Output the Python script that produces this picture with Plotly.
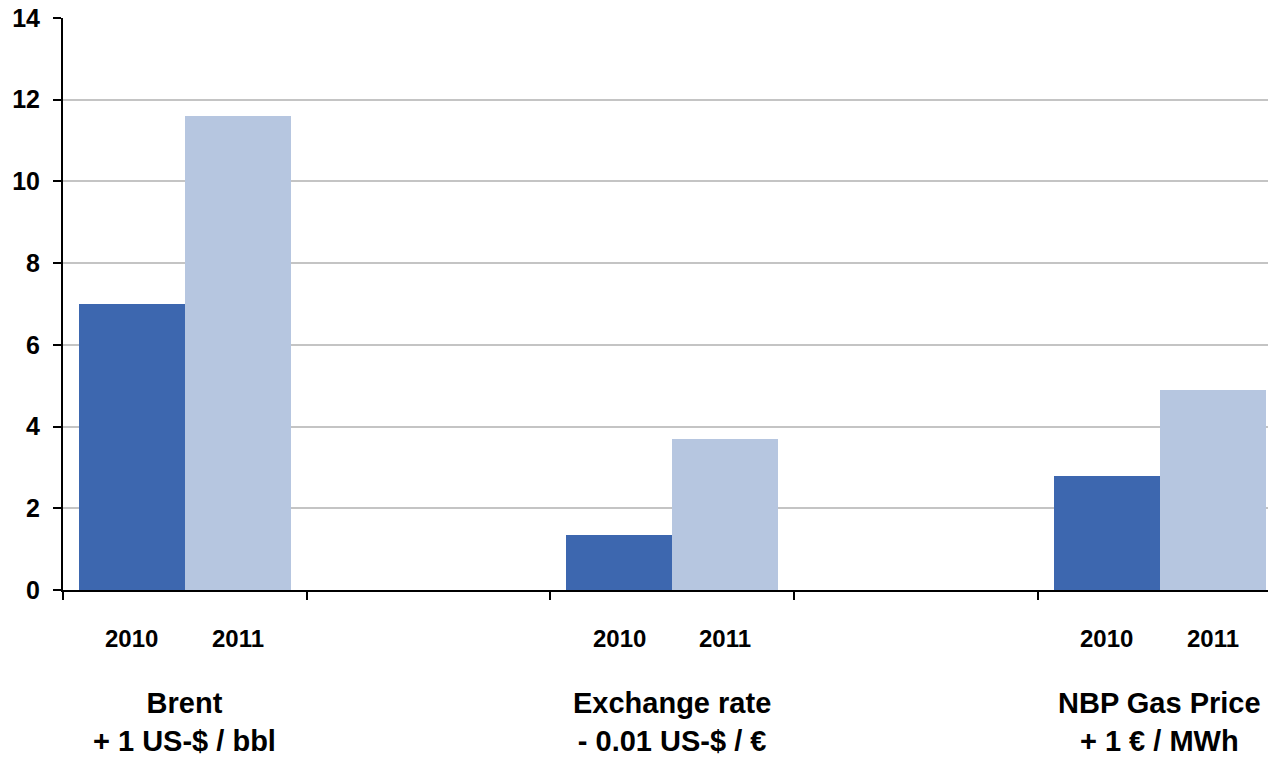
import plotly.graph_objects as go

categories = ["Brent", "Exchange rate", "NBP Gas Price"]
units = ["+ 1 US-$ / bbl", "- 0.01 US-$ / €", "+ 1 € / MWh"]
years = ["2010", "2011"]
values_2010 = [7.0, 1.35, 2.8]
values_2011 = [11.6, 3.7, 4.9]
y_ticks = [0, 2, 4, 6, 8, 10, 12, 14]

colors = ["#3D67AF", "#B6C6E0"]
FONT = "Liberation Sans, Arial, sans-serif"

# each category sits in every other slot of a 5-slot axis
xpos = [2 * i for i in range(len(categories))]
bw = 0.435

fig = go.Figure()
for k, (yr, vals) in enumerate(zip(years, [values_2010, values_2011])):
    fig.add_trace(go.Bar(
        x=xpos, y=vals, name=yr, width=bw, offset=-bw if k == 0 else 0,
        marker=dict(color=colors[k], line=dict(width=0)),
        showlegend=False,
    ))

plot_top, plot_bot = 17.5, 590.0
def py(Y):
    return (plot_bot - Y) / (plot_bot - plot_top)

annotations = []
for i, x in enumerate(xpos):
    for k, yr in enumerate(years):
        annotations.append(dict(
            x=x + (k - 0.5) * bw, xref="x", y=py(638.5), yref="paper",
            text=f"<b>{yr}</b>", showarrow=False, xanchor="center", yanchor="middle",
            font=dict(family=FONT, size=24, color="#000000")))
    annotations.append(dict(
        x=x, xref="x", y=py(722), yref="paper",
        text=f"<b>{categories[i]}</b><br><b>{units[i]}</b>", showarrow=False,
        xanchor="center", yanchor="middle", align="center",
        font=dict(family=FONT, size=29, color="#000000")))

fig.update_layout(
    width=1268, height=758,
    margin=dict(l=63, r=0, t=17.5, b=168, pad=0),
    paper_bgcolor="white", plot_bgcolor="white",
    barmode="overlay", bargap=0,
    annotations=annotations,
    font=dict(family=FONT, color="#000000"),
    xaxis=dict(
        range=[-0.5, 4.445], tickmode="array",
        tickvals=[-0.5, 0.5, 1.5, 2.5, 3.5, 4.5], showticklabels=False,
        ticks="outside", ticklen=8, tickwidth=2, tickcolor="#000000",
        showline=True, linecolor="#000000", linewidth=2,
        showgrid=False, zeroline=False, fixedrange=True,
    ),
    yaxis=dict(
        range=[0, 14], tickmode="array", tickvals=y_ticks,
        ticktext=[f"<b>{v}</b>" for v in y_ticks],
        tickfont=dict(family=FONT, size=25, color="#000000"),
        ticks="outside", ticklen=8, tickwidth=2, tickcolor="#000000",
        ticklabelstandoff=8,
        showline=True, linecolor="#000000", linewidth=2,
        showgrid=True, gridcolor="#C4C4C4", gridwidth=2,
        zeroline=False, fixedrange=True,
    ),
)

fig.write_html("out.html")
